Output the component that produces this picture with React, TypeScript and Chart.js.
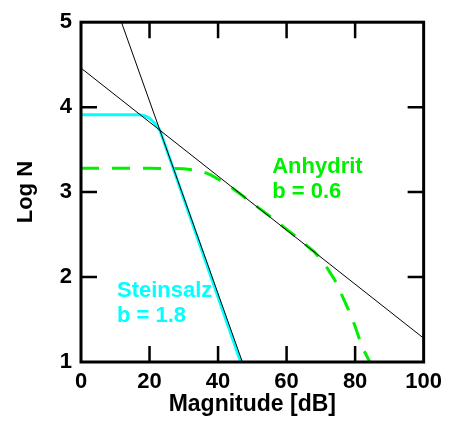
import React, { useEffect, useRef } from "react";
import { Chart, registerables } from "chart.js";

Chart.register(...registerables);

// Axis ranges / ticks
const X_MIN = 0;
const X_MAX = 100;
const X_STEP = 20;
const Y_MIN = 1;
const Y_MAX = 5;
const Y_STEP = 1;

// Fit line for Steinsalz (steep, b = 1.8)
const steepFitX = [11.8, 47.1];
const steepFitY = [5.0, 1.0];

// Fit line for Anhydrit (shallow, b = 0.6)
const shallowFitX = [0, 100];
const shallowFitY = [4.46, 1.28];

// Steinsalz measured curve (cyan)
const steinsalzX = [0, 17, 18.5, 20, 21.5, 23, 46.6];
const steinsalzY = [3.91, 3.91, 3.9, 3.87, 3.81, 3.73, 1.0];

// Anhydrit measured curve (green dashed)
const anhydritX = [0, 20, 30, 35, 38, 41, 44, 48, 55, 62, 68, 71, 74, 76, 78, 80, 82, 83.4, 84.3];
const anhydritY = [3.28, 3.28, 3.275, 3.25, 3.2, 3.13, 3.05, 2.93, 2.72, 2.5, 2.3, 2.16, 1.97, 1.8, 1.62, 1.42, 1.18, 1.07, 1.0];

// Annotation labels
const anhydritLabel = ["Anhydrit", "b = 0.6"];
const steinsalzLabel = ["Steinsalz", "b = 1.8"];

const toXY = (xs: number[], ys: number[]) => xs.map((x, i) => ({ x, y: ys[i] }));

const GREEN = "#00f000";
const CYAN = "#00ffff";
const FONT = "'Liberation Sans', Arial, sans-serif";

const framePlugin = {
  id: "frameAndLabels",
  afterDraw(chart: any) {
    const { ctx, chartArea, scales } = chart;
    const xs = scales.x;
    const ys = scales.y;
    ctx.save();
    ctx.strokeStyle = "#000";
    ctx.lineWidth = 3;
    ctx.strokeRect(chartArea.left, chartArea.top, chartArea.right - chartArea.left, chartArea.bottom - chartArea.top);
    ctx.lineWidth = 2.5;
    const tl = 16;
    ctx.beginPath();
    for (let v = X_MIN + X_STEP; v < X_MAX; v += X_STEP) {
      const px = xs.getPixelForValue(v);
      ctx.moveTo(px, chartArea.bottom);
      ctx.lineTo(px, chartArea.bottom - tl);
      ctx.moveTo(px, chartArea.top);
      ctx.lineTo(px, chartArea.top + tl);
    }
    for (let v = Y_MIN + Y_STEP; v < Y_MAX; v += Y_STEP) {
      const py = ys.getPixelForValue(v);
      ctx.moveTo(chartArea.left, py);
      ctx.lineTo(chartArea.left + tl, py);
      ctx.moveTo(chartArea.right, py);
      ctx.lineTo(chartArea.right - tl, py);
    }
    ctx.stroke();

    ctx.font = `bold 22px ${FONT}`;
    ctx.textAlign = "left";
    ctx.textBaseline = "alphabetic";
    ctx.fillStyle = GREEN;
    ctx.fillText(anhydritLabel[0], xs.getPixelForValue(55.8), ys.getPixelForValue(3.22));
    ctx.fillText(anhydritLabel[1], xs.getPixelForValue(55.8), ys.getPixelForValue(2.925));
    ctx.fillStyle = CYAN;
    ctx.fillText(steinsalzLabel[0], xs.getPixelForValue(10.5), ys.getPixelForValue(1.76));
    ctx.fillText(steinsalzLabel[1], xs.getPixelForValue(10.5), ys.getPixelForValue(1.47));
    ctx.restore();
  },
};

export default function App() {
  const ref = useRef<HTMLCanvasElement | null>(null);
  useEffect(() => {
    if (!ref.current) return;
    const chart = new Chart(ref.current, {
      type: "line",
      data: {
        datasets: [
          {
            data: toXY(steepFitX, steepFitY),
            borderColor: "#000",
            borderWidth: 1,
            pointRadius: 0,
            tension: 0,
          },
          {
            data: toXY(shallowFitX, shallowFitY),
            borderColor: "#000",
            borderWidth: 1,
            pointRadius: 0,
            tension: 0,
          },
          {
            data: toXY(steinsalzX, steinsalzY),
            borderColor: CYAN,
            borderWidth: 3,
            pointRadius: 0,
            tension: 0,
          },
          {
            data: toXY(anhydritX, anhydritY),
            borderColor: GREEN,
            borderWidth: 3,
            borderDash: [18, 13],
            pointRadius: 0,
            tension: 0,
          },
        ],
      },
      options: {
        animation: false,
        responsive: false,
        maintainAspectRatio: false,
        layout: { padding: { left: 0, top: 18, right: 24, bottom: 0 } },
        plugins: { legend: { display: false }, tooltip: { enabled: false } },
        scales: {
          x: {
            type: "linear",
            min: X_MIN,
            max: X_MAX,
            grid: { display: false, drawTicks: false },
            border: { display: false },
            ticks: {
              stepSize: X_STEP,
              color: "#000",
              padding: 7,
              font: { family: FONT, size: 22, weight: "bold" },
              maxRotation: 0,
            },
            title: {
              display: true,
              text: "Magnitude [dB]",
              color: "#000",
              font: { family: FONT, size: 23, weight: "bold" },
              padding: { top: 0, bottom: 7 },
            },
            afterFit: (s: any) => {
              s.height = 63;
            },
          },
          y: {
            type: "linear",
            min: Y_MIN,
            max: Y_MAX,
            grid: { display: false, drawTicks: false },
            border: { display: false },
            ticks: {
              stepSize: Y_STEP,
              color: "#000",
              padding: 9,
              font: { family: FONT, size: 22, weight: "bold" },
            },
            title: {
              display: true,
              text: "Log N",
              color: "#000",
              font: { family: FONT, size: 22, weight: "bold" },
              padding: { top: 13, bottom: 0 },
            },
            afterFit: (s: any) => {
              s.width = 81;
            },
          },
        },
      },
      plugins: [framePlugin],
    } as any);
    return () => chart.destroy();
  }, []);
  return (
    <div style={{ position: "fixed", left: 0, top: 0, width: 449, height: 425, background: "#fff" }}>
      <canvas ref={ref} width={449} height={425} style={{ width: 449, height: 425 }} />
    </div>
  );
}
